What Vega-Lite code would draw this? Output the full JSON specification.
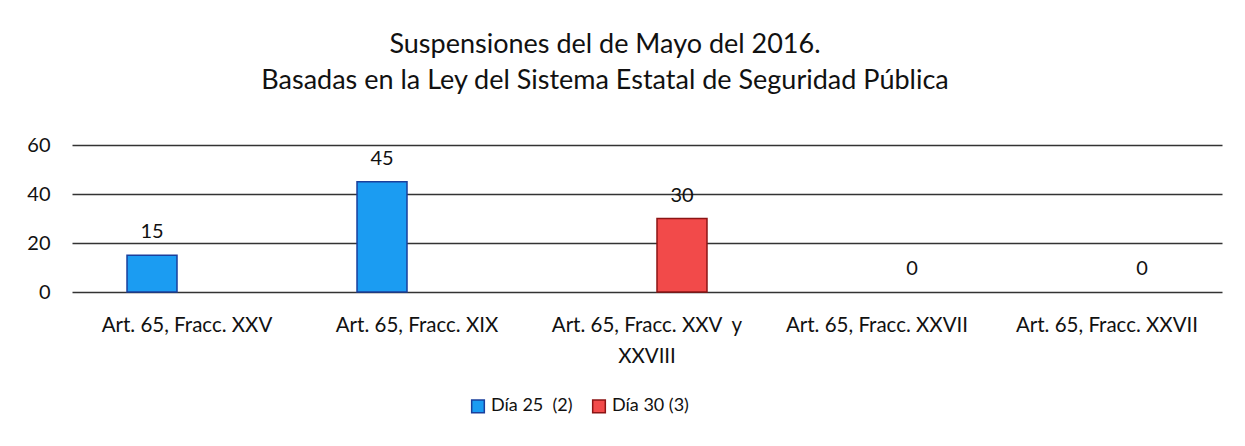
{
  "$schema": "https://vega.github.io/schema/vega-lite/v6.json",
  "autosize": {"type": "none"},
  "padding": {"left": 72, "top": 145, "right": 23, "bottom": 154},
  "width": 1150,
  "height": 147,
  "background": "white",
  "config": {
    "font": "Lato",
    "view": {"stroke": null}
  },
  "title": {
    "text": ["Suspensiones del de Mayo del 2016.", "Basadas en la Ley del Sistema Estatal de Seguridad Pública"],
    "fontSize": 27,
    "fontWeight": "normal",
    "font": "Lato",
    "color": "#111111",
    "anchor": "middle",
    "dx": -42,
    "offset": 40,
    "lineHeight": 36
  },
  "data": {
    "values": [
      {"articulo": "Art. 65, Fracc. XXV", "serie": "Día 25\u00a0 (2)", "valor": 15},
      {"articulo": "Art. 65, Fracc. XIX", "serie": "Día 25\u00a0 (2)", "valor": 45},
      {"articulo": "Art. 65, Fracc. XXV\u00a0 y|XXVIII", "serie": "Día 30 (3)", "valor": 30},
      {"articulo": "Art. 65, Fracc. XXVII", "serie": "Día 30 (3)", "valor": 0},
      {"articulo": "Art. 65, Fracc. XXVII ", "serie": "Día 30 (3)", "valor": 0}
    ]
  },
  "encoding": {
    "x": {
      "field": "articulo",
      "type": "nominal",
      "sort": null,
      "scale": {"paddingInner": 0, "paddingOuter": 0},
      "axis": {
        "title": null,
        "labelAngle": 0,
        "labelFontSize": 20.5,
        "labelColor": "#111111",
        "labelPadding": 23,
        "labelLineHeight": 31,
        "labelBaseline": "top",
        "labelLimit": 0,
        "labelExpr": "split(trim(datum.label), '|')",
        "ticks": false,
        "domain": false
      }
    },
    "xOffset": {
      "field": "serie",
      "type": "nominal",
      "scale": {"domain": ["Día 25\u00a0 (2)", "Día 30 (3)"], "paddingInner": 0.2857, "paddingOuter": 0.786}
    },
    "y": {
      "field": "valor",
      "type": "quantitative",
      "scale": {"domain": [0, 60]},
      "axis": {
        "title": null,
        "values": [0, 20, 40, 60],
        "labelFontSize": 20,
        "labelColor": "#111111",
        "labelPadding": 22,
        "ticks": false,
        "domain": false,
        "grid": true,
        "gridColor": "#333333",
        "gridWidth": 1.5
      }
    }
  },
  "layer": [
    {
      "mark": {"type": "bar", "strokeWidth": 1.5},
      "encoding": {
        "strokeOpacity": {"condition": {"test": "datum.valor === 0", "value": 0}, "value": 1},
        "color": {
          "field": "serie",
          "type": "nominal",
          "scale": {"domain": ["Día 25\u00a0 (2)", "Día 30 (3)"], "range": ["#1b9cf2", "#f24a4a"]},
          "legend": {
            "title": null,
            "orient": "none",
            "direction": "horizontal",
            "legendX": 397,
            "legendY": 252,
            "symbolType": "square",
            "symbolSize": 160,
            "symbolStrokeWidth": 1.5,
            "labelFontSize": 18,
            "labelColor": "#111111",
            "columnPadding": 16,
            "labelOffset": 4
          }
        },
        "stroke": {
          "field": "serie",
          "type": "nominal",
          "scale": {"domain": ["Día 25\u00a0 (2)", "Día 30 (3)"], "range": ["#1a3f9c", "#8c1414"]},
          "legend": {
            "title": null,
            "orient": "none",
            "direction": "horizontal",
            "legendX": 397,
            "legendY": 252,
            "symbolType": "square",
            "symbolSize": 160,
            "symbolStrokeWidth": 1.5,
            "labelFontSize": 18,
            "labelColor": "#111111",
            "columnPadding": 16,
            "labelOffset": 4
          }
        }
      }
    },
    {
      "mark": {"type": "text", "fontSize": 20, "baseline": "alphabetic", "dy": -17, "color": "#111111"},
      "encoding": {
        "text": {"field": "valor", "type": "quantitative"}
      }
    }
  ]
}
